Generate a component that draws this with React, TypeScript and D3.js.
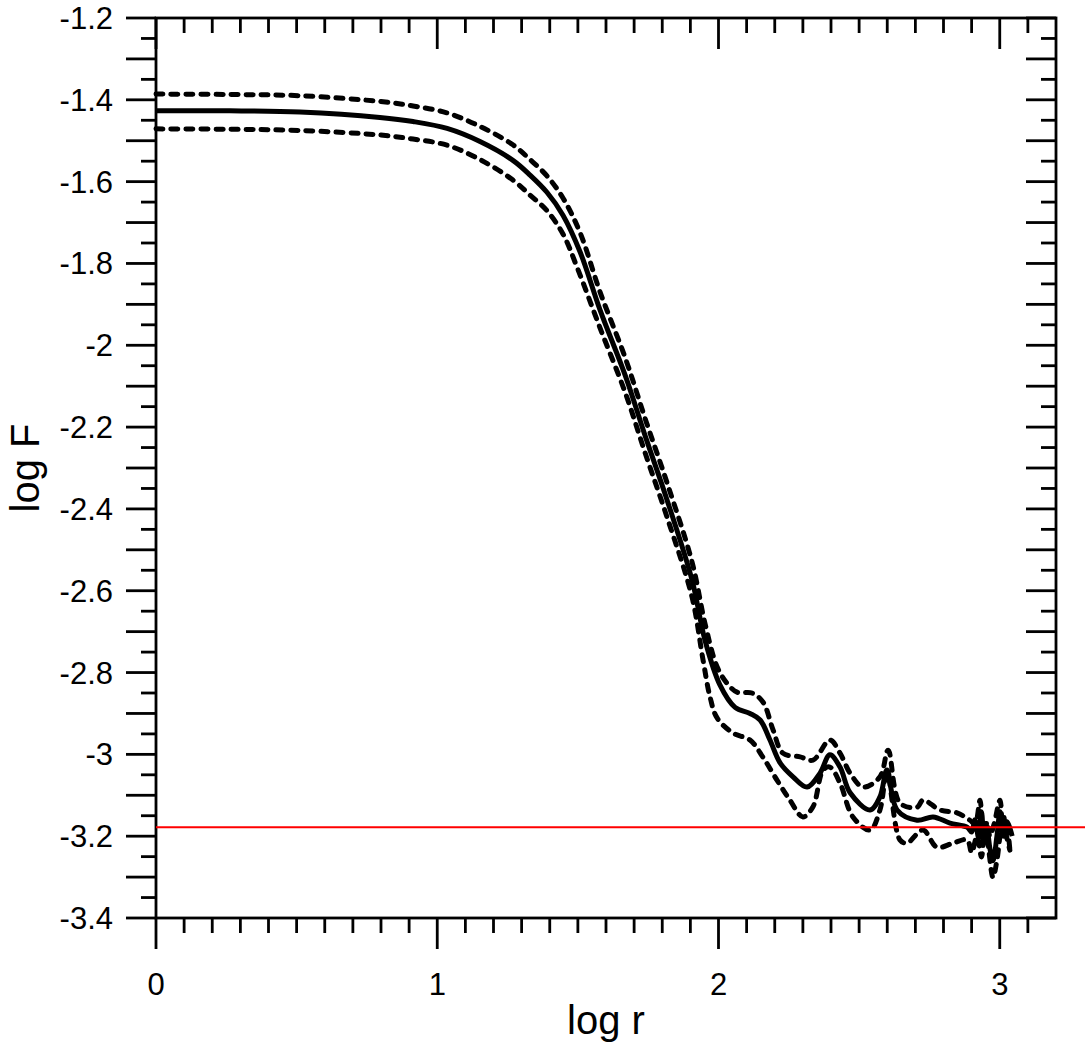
import * as d3 from 'd3';

// log r / log F readings for the three curves
const solidR = [0, 0.263, 0.512, 0.796, 0.914, 1.035, 1.152, 1.269, 1.33, 1.39, 1.447, 1.508, 1.579, 1.668, 1.742, 1.817, 1.906, 1.952, 2.005, 2.059, 2.112, 2.148, 2.183, 2.219, 2.265, 2.315, 2.361, 2.396, 2.432, 2.468, 2.539, 2.574, 2.599, 2.635, 2.706, 2.763, 2.823, 2.884, 2.9, 2.912, 2.925, 2.935, 2.945, 2.955, 2.965, 2.976, 2.99, 3.001, 3.012, 3.026, 3.044];
const solidF = [-1.427, -1.427, -1.43, -1.443, -1.453, -1.47, -1.502, -1.548, -1.584, -1.626, -1.682, -1.772, -1.914, -2.073, -2.227, -2.378, -2.574, -2.721, -2.83, -2.885, -2.9, -2.916, -2.965, -3.021, -3.055, -3.08, -3.046, -3.001, -3.031, -3.094, -3.136, -3.104, -3.038, -3.136, -3.161, -3.153, -3.168, -3.178, -3.19, -3.16, -3.205, -3.14, -3.215, -3.185, -3.23, -3.26, -3.2, -3.14, -3.19, -3.165, -3.2];

const upperR = [0, 0.263, 0.512, 0.796, 0.914, 1.035, 1.152, 1.269, 1.33, 1.39, 1.447, 1.508, 1.579, 1.668, 1.742, 1.817, 1.906, 1.952, 1.995, 2.03, 2.066, 2.119, 2.158, 2.194, 2.229, 2.29, 2.336, 2.396, 2.432, 2.468, 2.514, 2.574, 2.603, 2.645, 2.706, 2.727, 2.788, 2.848, 2.894, 2.912, 2.93, 2.94, 2.955, 2.965, 2.98, 3.001, 3.012, 3.024, 3.036];
const upperF = [-1.386, -1.387, -1.39, -1.404, -1.415, -1.432, -1.465, -1.51, -1.546, -1.586, -1.64, -1.725, -1.87, -2.03, -2.185, -2.336, -2.53, -2.68, -2.786, -2.826, -2.848, -2.85, -2.872, -2.94, -2.997, -3.006, -3.014, -2.965, -2.997, -3.046, -3.08, -3.055, -2.99, -3.119, -3.129, -3.112, -3.136, -3.143, -3.161, -3.17, -3.112, -3.22, -3.165, -3.2, -3.17, -3.112, -3.209, -3.17, -3.234];

const lowerR = [0, 0.263, 0.512, 0.796, 0.914, 1.035, 1.152, 1.269, 1.33, 1.39, 1.447, 1.497, 1.579, 1.668, 1.742, 1.817, 1.906, 1.945, 1.97, 1.995, 2.052, 2.112, 2.158, 2.208, 2.254, 2.3, 2.336, 2.372, 2.396, 2.432, 2.478, 2.539, 2.574, 2.599, 2.645, 2.67, 2.727, 2.777, 2.834, 2.884, 2.9, 2.919, 2.935, 2.948, 2.962, 2.976, 2.99, 3.012, 3.024, 3.036];
const lowerF = [-1.471, -1.472, -1.475, -1.486, -1.496, -1.511, -1.546, -1.596, -1.633, -1.671, -1.728, -1.809, -1.958, -2.115, -2.269, -2.42, -2.616, -2.769, -2.86, -2.911, -2.948, -2.965, -3.007, -3.063, -3.112, -3.153, -3.128, -3.038, -3.031, -3.07, -3.153, -3.185, -3.136, -3.046, -3.209, -3.217, -3.185, -3.227, -3.217, -3.209, -3.24, -3.2, -3.251, -3.161, -3.24, -3.301, -3.259, -3.148, -3.2, -3.234];

const cutoffF = -3.178;

const xLabels = [0, 1, 2, 3];
const yLabels = [-1.2, -1.4, -1.6, -1.8, -2, -2.2, -2.4, -2.6, -2.8, -3, -3.2, -3.4];

const W = 1085;
const H = 1049;
const FONT = 'Arial, "Liberation Sans", Helvetica, sans-serif';

export default function App() {
  const x = d3.scaleLinear().domain([0, 3.2]).range([156, 1056]);
  const y = d3.scaleLinear().domain([-3.4, -1.2]).range([918, 18]);
  const [x0, x1] = x.range();
  const [y0, y1] = y.range();

  const line = d3
    .line<[number, number]>()
    .x((d) => x(d[0]))
    .y((d) => y(d[1]))
    .curve(d3.curveCatmullRom.alpha(0.5));

  const pts = (r: number[], f: number[]) => r.map((v, i) => [v, f[i]] as [number, number]);

  const xMinor = d3.range(0, 32).map((i) => i / 10);
  const yMinor = d3.range(0, 45).map((i) => -3.4 + i * 0.05);

  const tickStroke = { stroke: '#000', strokeWidth: 2.8 };

  return (
    <svg width={W} height={H} style={{ position: 'absolute', left: 0, top: 0, background: '#fff' }}>
      {/* x ticks, bottom outward and top inward */}
      {xMinor.map((t) => {
        const major = Math.abs(t - Math.round(t)) < 1e-6;
        const len = major ? 31 : 15;
        return (
          <g key={'x' + t}>
            <line x1={x(t)} x2={x(t)} y1={y0} y2={y0 + len} {...tickStroke} />
            <line x1={x(t)} x2={x(t)} y1={y1} y2={y1 + len} {...tickStroke} />
          </g>
        );
      })}
      {/* y ticks, left outward and right inward */}
      {yMinor.map((t, i) => {
        const len = i % 2 === 0 ? 30 : 15;
        return (
          <g key={'y' + i}>
            <line x1={x0 - len} x2={x0} y1={y(t)} y2={y(t)} {...tickStroke} />
            <line x1={x1 - len} x2={x1} y1={y(t)} y2={y(t)} {...tickStroke} />
          </g>
        );
      })}
      <rect x={x0} y={y1} width={x1 - x0} height={y0 - y1} fill="none" stroke="#000" strokeWidth={2.8} />

      {xLabels.map((t) => (
        <text key={'xl' + t} x={x(t)} y={995} textAnchor="middle" fontFamily={FONT} fontSize={31}>
          {t}
        </text>
      ))}
      {yLabels.map((t) => (
        <text key={'yl' + t} x={113} y={y(t) + 11} textAnchor="end" fontFamily={FONT} fontSize={31}>
          {String(t)}
        </text>
      ))}

      <text x={(x0 + x1) / 2} y={1034} textAnchor="middle" fontFamily={FONT} fontSize={40}>
        log r
      </text>
      <text
        transform={`translate(39,${(y0 + y1) / 2}) rotate(-90)`}
        textAnchor="middle"
        fontFamily={FONT}
        fontSize={40}
      >
        log F
      </text>

      <path d={line(pts(upperR, upperF)) || ''} fill="none" stroke="#000" strokeWidth={5} strokeDasharray="7 8" strokeLinecap="round" />
      <path d={line(pts(lowerR, lowerF)) || ''} fill="none" stroke="#000" strokeWidth={5} strokeDasharray="7 8" strokeLinecap="round" />
      <path d={line(pts(solidR, solidF)) || ''} fill="none" stroke="#000" strokeWidth={5} strokeLinejoin="round" />

      <line x1={x0} x2={W} y1={y(cutoffF)} y2={y(cutoffF)} stroke="#ff0000" strokeWidth={2} />
    </svg>
  );
}
